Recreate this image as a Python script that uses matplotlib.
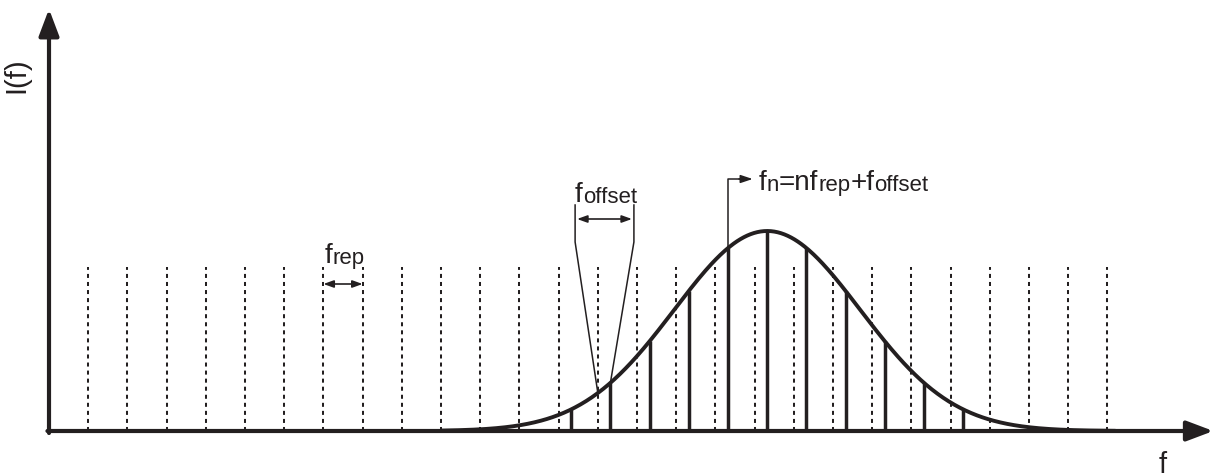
import matplotlib
matplotlib.use("Agg")
import matplotlib.pyplot as plt
import numpy as np

plt.rcParams['font.family'] = ['Liberation Sans', 'DejaVu Sans']

INK = '#231f20'

# comb: dotted reference grid at n*frep, real modes shifted by foffset
gridModes = list(range(1, 28))
activeModes = list(range(13, 24))
fOffset = 0.32           # in units of frep
gridHeight = 0.82        # height of dotted grid lines (peak = 1)

# spectral envelope
envCentre = 18.32
envWidth = 2.37
envPeak = 1.0
envStart = 10.0
envStop = 27.2

# axis extents
xAxisEnd = 29.7
yAxisEnd = 2.11


def envelope(f):
    return envPeak * np.exp(-(np.asarray(f) - envCentre) ** 2 / (2 * envWidth ** 2))


def drawRuns(ax, x, y, runs):
    # writes text pieces one after the other on a common baseline
    first, size, drop = runs[0]
    prev = ax.text(x, y, first, fontsize=size, va='baseline', ha='left', color=INK)
    for s, size, drop in runs[1:]:
        prev = ax.annotate(s, xy=(1, y), xycoords=(prev, 'data'), xytext=(0, -drop),
                           textcoords='offset points', fontsize=size,
                           va='baseline', ha='left', color=INK)
    return prev


fig = plt.figure(figsize=(12.2, 4.77), dpi=100)
ax = fig.add_axes([0, 0, 1, 1])
ax.set_xlim(-1.25, 29.87)
ax.set_ylim(-0.225, 2.16)
ax.axis('off')

# dotted grid
for n in gridModes:
    ax.plot([n, n], [0, gridHeight], color=INK, lw=1.45, dashes=(2.0, 2.0), solid_capstyle='butt')

# comb lines under the envelope
for n in activeModes:
    f = n + fOffset
    ax.plot([f, f], [0, envelope(f)], color=INK, lw=2.5, solid_capstyle='butt')

# envelope
fs = np.linspace(envStart, envStop, 600)
ax.plot(fs, envelope(fs), color=INK, lw=2.8, solid_capstyle='round')

# axes with arrow heads
arrow = dict(arrowstyle='-|>,head_length=0.45,head_width=0.17', mutation_scale=36,
             color=INK, lw=3, shrinkA=0, shrinkB=0)
ax.annotate('', xy=(0, yAxisEnd), xytext=(0, -0.01), arrowprops=arrow)
ax.annotate('', xy=(xAxisEnd, 0), xytext=(-0.04, 0), arrowprops=arrow)

ax.text(-0.82, 1.785, 'I(f)', rotation=90, fontsize=21, ha='center', va='center', color=INK)
ax.text(28.4, -0.165, 'f', fontsize=21, ha='center', va='center', color=INK)

# frep spacing
small = dict(arrowstyle='<|-|>,head_length=0.5,head_width=0.18', mutation_scale=12,
             color=INK, lw=1.2, shrinkA=0, shrinkB=0)
ax.annotate('', xy=(7, 0.735), xytext=(8, 0.735), arrowprops=small)
drawRuns(ax, 7.04, 0.845, [('f', 20, 0), ('rep', 16, 1)])

# foffset bracket
leftX, rightX = 13.42, 14.92
bracketTop, bracketKnee = 1.13, 0.945
ax.plot([leftX, leftX, 14], [bracketTop, bracketKnee, envelope(14)], color=INK, lw=1.1)
ax.plot([rightX, rightX, 14 + fOffset], [bracketTop, bracketKnee, envelope(14 + fOffset)],
        color=INK, lw=1.1)
ax.annotate('', xy=(leftX + 0.05, 1.06), xytext=(rightX - 0.05, 1.06), arrowprops=small)
drawRuns(ax, 13.42, 1.15, [('f', 20, 0), ('offset', 16, 1)])

# fn pointer
nMark = 17 + fOffset
ax.plot([nMark, nMark, 17.75], [envelope(nMark), 1.26, 1.26], color=INK, lw=1.1)
ax.annotate('', xy=(17.95, 1.26), xytext=(17.6, 1.26),
            arrowprops=dict(arrowstyle='-|>,head_length=0.6,head_width=0.2', mutation_scale=12,
                            color=INK, lw=1.1, shrinkA=0, shrinkB=0))
drawRuns(ax, 18.1, 1.21, [('f', 20, 0), ('n', 16, 1), ('=nf', 20, 0), ('rep', 16, 1),
                          ('+f', 20, 0), ('offset', 16, 1)])

fig.savefig('out.png', dpi=100)
